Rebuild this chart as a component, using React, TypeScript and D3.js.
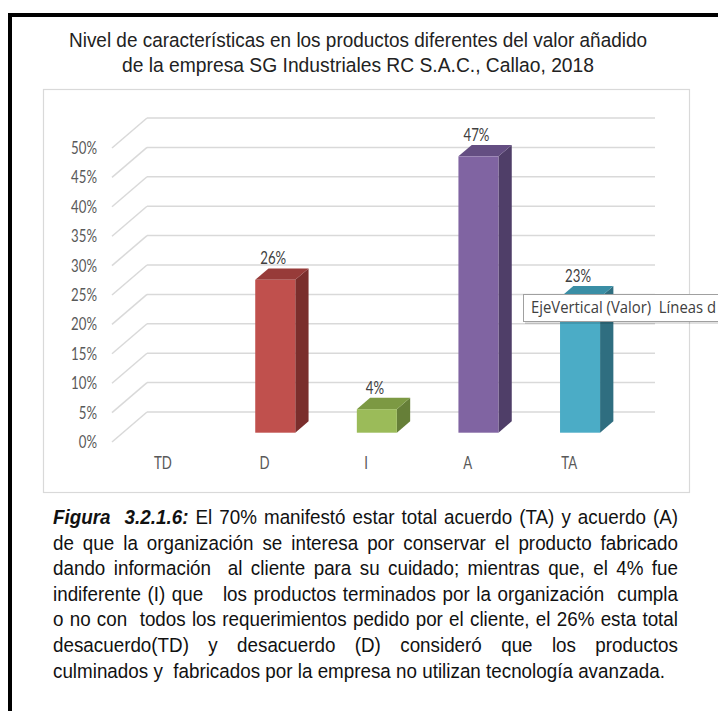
import React, { useLayoutEffect, useRef } from "react";
import * as d3 from "d3";

// ---- data ----
const categories = ["TD", "D", "I", "A", "TA"];
const values = [0, 0.26, 0.04, 0.47, 0.23];
const yTicks = [0, 0.05, 0.1, 0.15, 0.2, 0.25, 0.3, 0.35, 0.4, 0.45, 0.5];

const titleLines = [
  "Nivel de características en los productos diferentes del valor añadido",
  "de la empresa SG Industriales RC S.A.C., Callao, 2018",
];

type Seg = { t: string; b?: boolean };
const captionLines: Seg[][] = [
  [{ t: "Figura  3.2.1.6:", b: true }, { t: " El 70% manifestó estar total acuerdo (TA) y acuerdo (A)" }],
  [{ t: "de que la organización se interesa por conservar el producto fabricado" }],
  [{ t: "dando información  al cliente para su cuidado; mientras que, el 4% fue" }],
  [{ t: "indiferente (I) que   los productos terminados por la organización  cumpla" }],
  [{ t: "o no con  todos los requerimientos pedido por el cliente, el 26% esta total" }],
  [{ t: "desacuerdo(TD) y desacuerdo (D) consideró que los productos" }],
  [{ t: "culminados y  fabricados por la empresa no utilizan tecnología avanzada." }],
];

const tooltipText = "EjeVertical (Valor)  Líneas d";

// ---- styles ----
const frontColors = ["#C0504D", "#C0504D", "#9BBB59", "#8064A2", "#4BACC6"];
const topColors = ["#973B39", "#973B39", "#7C9943", "#644E82", "#3A8EA5"];
const sideColors = ["#7A2E2C", "#7A2E2C", "#667F38", "#4F3E68", "#2F6E80"];

const W = 718;
const H = 711;
const SX = 0.8; // horizontal squash for chart text
const CHART_FONT = "Lato, 'Open Sans', sans-serif";
const TEXT_FONT = "'Liberation Sans', Arial, sans-serif";

// depth of the 3D box
const DX = 35;
const DY = -30;
const F1 = 0.31; // bar front depth fraction
const F2 = 0.69; // bar back depth fraction
const BAR = 0.394; // bar width as share of the band

type Tok = { word: string; bold: boolean; spaces: number };
function tokenize(segs: Seg[]): Tok[] {
  const out: Tok[] = [];
  let pending = 0;
  segs.forEach((s) => {
    s.t.split(/( +)/).forEach((p) => {
      if (!p) return;
      if (p[0] === " ") pending += p.length;
      else {
        out.push({ word: p, bold: !!s.b, spaces: out.length ? pending : 0 });
        pending = 0;
      }
    });
  });
  return out;
}

// justified caption block, words placed one by one
function Caption() {
  const ref = useRef<SVGGElement>(null);
  useLayoutEffect(() => {
    const g = d3.select(ref.current);
    g.selectAll("*").remove();
    const fs = 19.5;
    const left = 53;
    const right = 678;
    const lastRight = 665;
    const measure = (txt: string, bold: boolean) => {
      const t = g
        .append("text")
        .attr("font-size", fs)
        .attr("font-family", TEXT_FONT)
        .attr("font-weight", bold ? "bold" : "normal")
        .attr("font-style", bold ? "italic" : "normal")
        .style("white-space", "pre")
        .text(txt);
      const w = (t.node() as SVGTextElement).getComputedTextLength();
      t.remove();
      return w;
    };
    const spaceW = measure("a a", false) - measure("aa", false);
    const lines = captionLines.map((segs) => {
      const toks = tokenize(segs).map((tk) => ({ ...tk, w: measure(tk.word, tk.bold) }));
      const wordsW = d3.sum(toks, (d) => d.w);
      const nSpaces = d3.sum(toks, (d) => d.spaces);
      return { toks, wordsW, nSpaces };
    });
    const last = lines[lines.length - 1];
    const sx = (lastRight - left) / (last.wordsW + last.nSpaces * spaceW);
    lines.forEach((ln, i) => {
      const isLast = i === lines.length - 1;
      const target = (right - left) / sx;
      const extra = isLast ? 0 : (target - ln.wordsW - ln.nSpaces * spaceW) / ln.nSpaces;
      let cursor = 0;
      const yb = 524 + 25.6 * i;
      ln.toks.forEach((tk) => {
        cursor += tk.spaces * (spaceW + extra);
        g.append("text")
          .attr("transform", `translate(${left + cursor * sx},${yb}) scale(${sx},1)`)
          .attr("font-size", fs)
          .attr("font-family", TEXT_FONT)
          .attr("font-weight", tk.bold ? "bold" : "normal")
          .attr("font-style", tk.bold ? "italic" : "normal")
          .attr("fill", "#111")
          .text(tk.word);
        cursor += tk.w;
      });
    });
  }, []);
  return <g ref={ref} />;
}

export default function App() {
  const x = d3.scaleBand<string>().domain(categories).range([112, 620]);
  const y = d3.scaleLinear().domain([0, 0.5]).range([442, 148]);
  const fmt = d3.format(".0%");
  const bw = x.bandwidth();

  const bars = values.map((v, i) => {
    if (v <= 0) return null;
    const c = categories[i];
    const cx = (x(c) as number) + bw / 2;
    const w = bw * BAR;
    const xl = cx - w / 2 + F1 * DX;
    const xr = xl + w;
    const yb = y(0) + F1 * DY;
    const yt = y(v) + F1 * DY;
    const ddx = (F2 - F1) * DX;
    const ddy = (F2 - F1) * DY;
    const pts = (arr: number[][]) => arr.map((p) => p.join(",")).join(" ");
    return (
      <g key={c}>
        <polygon
          points={pts([[xr, yb], [xr, yt], [xr + ddx, yt + ddy], [xr + ddx, yb + ddy]])}
          fill={sideColors[i]}
        />
        <polygon
          points={pts([[xl, yt], [xr, yt], [xr + ddx, yt + ddy], [xl + ddx, yt + ddy]])}
          fill={topColors[i]}
        />
        <rect x={xl} y={yt} width={w} height={yb - yt} fill={frontColors[i]} />
        <text
          transform={`translate(${cx + F1 * DX - 2},${y(v) + F2 * DY - 4}) scale(${SX},1)`}
          textAnchor="middle"
          fontFamily={CHART_FONT}
          fontSize={16.5}
          fill="#404040"
        >
          {fmt(v)}
        </text>
      </g>
    );
  });

  return (
    <svg
      width={W}
      height={H}
      viewBox={`0 0 ${W} ${H}`}
      style={{ position: "absolute", left: 0, top: 0, background: "#fff" }}
    >
      <rect x={0} y={0} width={W} height={H} fill="#fff" />
      {/* page frame */}
      <rect x={8} y={13} width={W} height={4} fill="#000" />
      <rect x={8} y={13} width={4} height={H} fill="#000" />

      {/* title */}
      {titleLines.map((t, i) => (
        <text
          key={i}
          x={358}
          y={47 + 25 * i}
          textAnchor="middle"
          fontFamily={TEXT_FONT}
          fontSize={20.5}
          fill="#222"
          textLength={i === 0 ? 578 : 472}
          lengthAdjust="spacingAndGlyphs"
        >
          {t}
        </text>
      ))}

      {/* chart area */}
      <rect x={43.5} y={89.5} width={646} height={403} fill="#fff" stroke="#d9d9d9" strokeWidth={1.2} />

      {/* gridlines: side wall and back wall */}
      {yTicks.map((t) => (
        <g key={t} stroke="#d9d9d9" strokeWidth={1.5} fill="none">
          <line x1={112} y1={y(t)} x2={112 + DX} y2={y(t) + DY} />
          <line x1={112 + DX} y1={y(t) + DY} x2={620 + DX} y2={y(t) + DY} />
        </g>
      ))}

      {/* y tick labels */}
      {yTicks.map((t) => (
        <text
          key={"l" + t}
          transform={`translate(97,${y(t) + 6}) scale(${SX},1)`}
          textAnchor="end"
          fontFamily={CHART_FONT}
          fontSize={16.5}
          fill="#595959"
        >
          {fmt(t)}
        </text>
      ))}

      {/* category labels */}
      {categories.map((c) => (
        <text
          key={"c" + c}
          transform={`translate(${(x(c) as number) + bw / 2},469) scale(${SX},1)`}
          textAnchor="middle"
          fontFamily={CHART_FONT}
          fontSize={16.5}
          fill="#595959"
        >
          {c}
        </text>
      ))}

      {bars}

      {/* hover tooltip over the value axis gridlines */}
      <rect x={525} y={296} width={200} height={28} fill="#000" opacity={0.12} />
      <rect x={523.5} y={294.5} width={200} height={27} fill="#fff" stroke="#a0a0a0" strokeWidth={1} />
      <text
        x={531}
        y={313}
        fontFamily="'Open Sans', 'Noto Sans', sans-serif"
        fontSize={16.5}
        fill="#404040"
        textLength={185}
        lengthAdjust="spacingAndGlyphs"
        style={{ whiteSpace: "pre" }}
      >
        {tooltipText}
      </text>

      <Caption />
    </svg>
  );
}
